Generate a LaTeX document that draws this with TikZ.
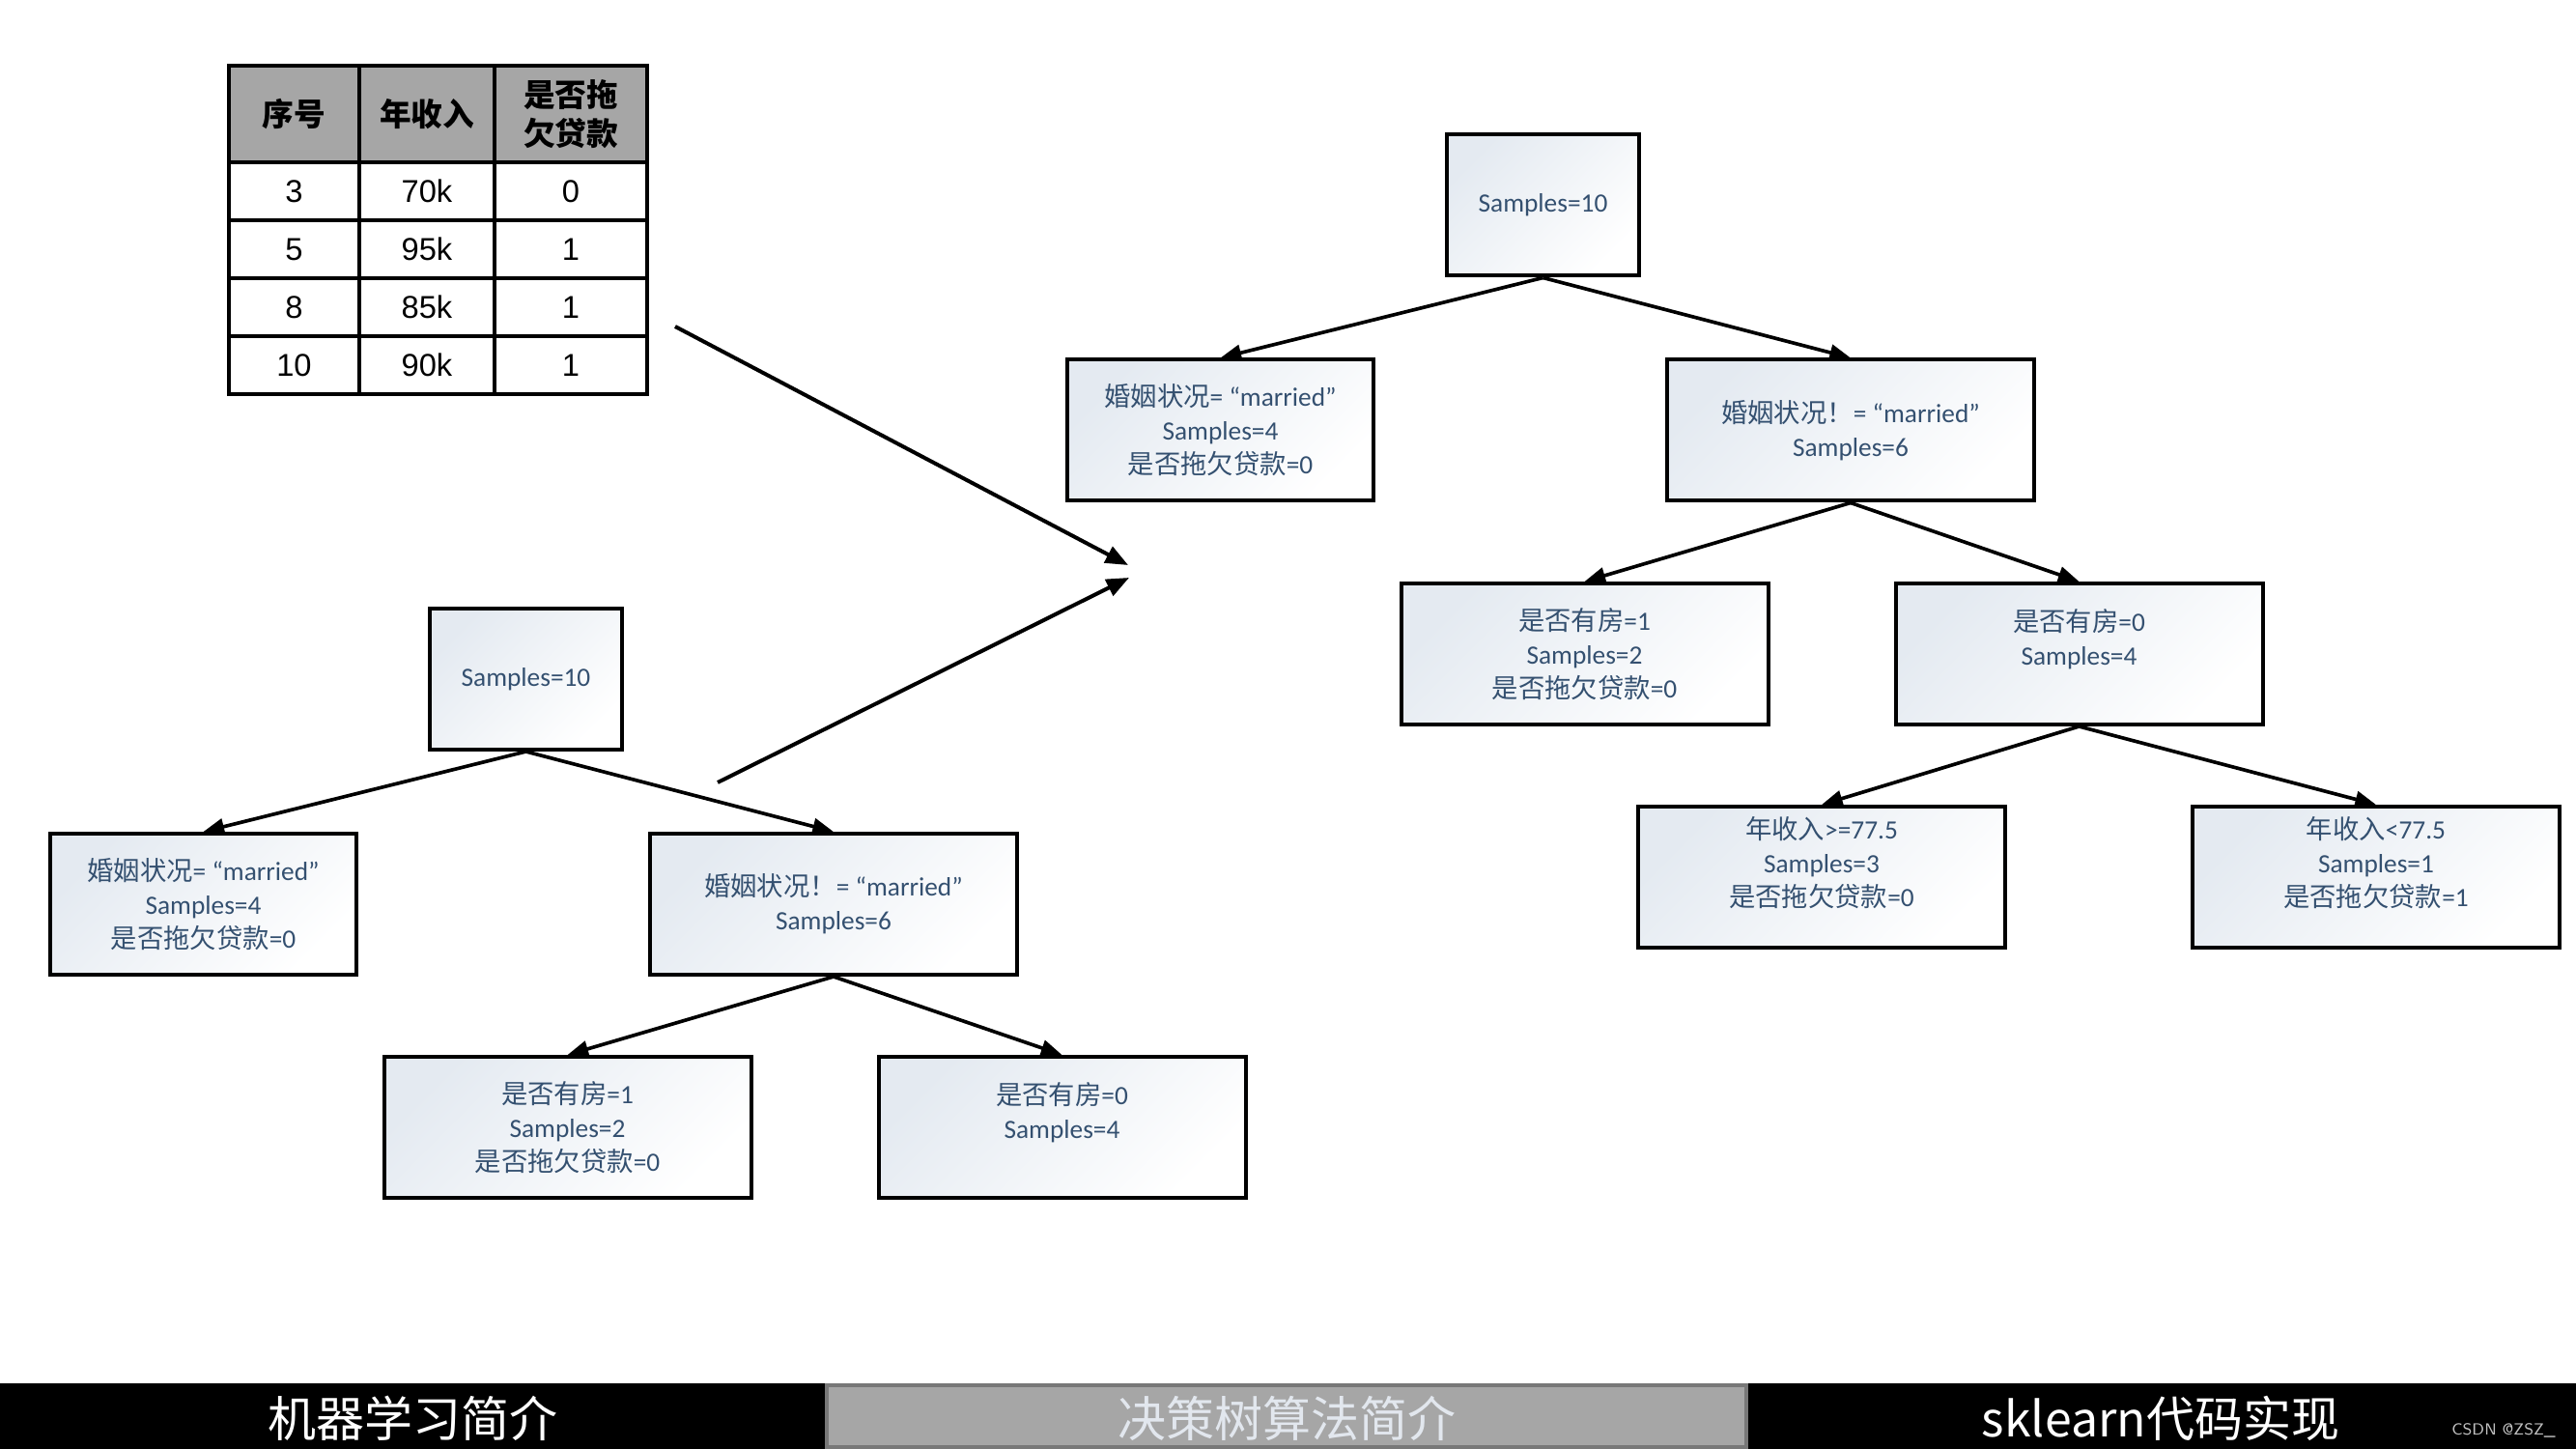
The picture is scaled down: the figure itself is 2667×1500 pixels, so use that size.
\documentclass[tikz,border=0pt]{standalone}
\usepackage{fontspec}
\setmainfont{Carlito}
\newfontfamily\zh{Noto Sans CJK SC}
\newfontfamily\tabf{Liberation Sans}
\usetikzlibrary{arrows.meta}
\definecolor{txtblue}{RGB}{52,80,112}
\definecolor{boxL}{RGB}{228,234,241}
\definecolor{hdr}{RGB}{166,166,166}
\definecolor{barg}{RGB}{166,166,166}
\definecolor{bargd}{RGB}{120,120,120}
\definecolor{bartxt}{RGB}{226,231,238}
\begin{document}
\begin{tikzpicture}[x=0.3pt,y=-0.3pt,
  box/.style={draw=black,line width=1.2pt,top color=boxL,bottom color=white,shading angle=45,
    minimum height=43.8pt,inner sep=0pt,align=center,text=txtblue,
    font=\fontsize{8.2}{10.5}\selectfont},
  wS/.style={minimum width=59.7pt},
  wM/.style={minimum width=95.1pt},
  wL/.style={minimum width=114pt},
  txt/.style={align=center,text=txtblue,font=\fontsize{8.2}{10.5}\selectfont,inner sep=0pt},
  edge/.style={line width=1.1pt,-{Triangle[length=6.5pt,width=5pt]}},
  big/.style={line width=1.2pt,-{Triangle[length=7pt,width=5.5pt]}},
  tcell/.style={inner sep=0pt,align=center,font=\tabf\fontsize{9.8}{12}\selectfont},
  thead/.style={inner sep=0pt,align=center,font=\zh\bfseries\fontsize{9.8}{12}\selectfont},
  bartext/.style={inner sep=0pt,font=\zh\fontsize{15}{15}\selectfont}
]
\useasboundingbox (0,0) rectangle (2667,1500);

% ---------- table ----------
\fill[hdr] (237,68) rectangle (670,168);
\draw[line width=1.3pt] (237,68) rectangle (670,408);
\foreach \yy in {168,228,288,348} \draw[line width=1.3pt] (237,\yy) -- (670,\yy);
\foreach \xx in {372,512} \draw[line width=1.3pt] (\xx,68) -- (\xx,408);
\node[thead] (h1) at (304.5,118) {序号};
\node[thead] (h2) at (442,118) {年收入};
\node[thead] (h3) at (591,118) {是否拖\\欠贷款};
\node[tcell] (c11) at (304.5,198) {3};
\node[tcell] (c12) at (442,198) {70k};
\node[tcell] (c13) at (591,198) {0};
\node[tcell] (c21) at (304.5,258) {5};
\node[tcell] (c22) at (442,258) {95k};
\node[tcell] (c23) at (591,258) {1};
\node[tcell] (c31) at (304.5,318) {8};
\node[tcell] (c32) at (442,318) {85k};
\node[tcell] (c33) at (591,318) {1};
\node[tcell] (c41) at (304.5,378) {10};
\node[tcell] (c42) at (442,378) {90k};
\node[tcell] (c43) at (591,378) {1};

% ---------- right tree ----------
\node[box,wS] (R0) at (1597.5,212.5) {Samples=10};
\node[box,wM] (RA) at (1263.5,445.5) {{\zh 婚姻状况}= “married”\\Samples=4\\{\zh 是否拖欠贷款}=0};
\node[box,wL] (RB) at (1916,445.5) {{\zh 婚姻状况！}= “married”\\Samples=6};
\node[box,wL] (RC) at (1640.5,677) {{\zh 是否有房}=1\\Samples=2\\{\zh 是否拖欠贷款}=0};
\node[box,wL,label={[txt,yshift=4.6pt]center:{{\zh 是否有房}=0\\Samples=4}}] (RD) at (2152.5,677) {};
\node[box,wL,label={[txt,yshift=4.6pt]center:{{\zh 年收入}>=77.5\\Samples=3\\{\zh 是否拖欠贷款}=0}}] (RE) at (1886,908) {};
\node[box,wL,label={[txt,yshift=4.6pt]center:{{\zh 年收入}<77.5\\Samples=1\\{\zh 是否拖欠贷款}=1}}] (RF) at (2460,908) {};

\draw[edge] (R0.south) -- (RA.north);
\draw[edge] (R0.south) -- (RB.north);
\draw[edge] (RB.south) -- (RC.north);
\draw[edge] (RB.south) -- (RD.north);
\draw[edge] (RD.south) -- (RE.north);
\draw[edge] (RD.south) -- (RF.north);

% ---------- left tree ----------
\node[box,wS] (L0) at (544.5,703) {Samples=10};
\node[box,wM] (LA) at (210.5,936) {{\zh 婚姻状况}= “married”\\Samples=4\\{\zh 是否拖欠贷款}=0};
\node[box,wL] (LB) at (863,936) {{\zh 婚姻状况！}= “married”\\Samples=6};
\node[box,wL] (LC) at (587.5,1167) {{\zh 是否有房}=1\\Samples=2\\{\zh 是否拖欠贷款}=0};
\node[box,wL,label={[txt,yshift=4.6pt]center:{{\zh 是否有房}=0\\Samples=4}}] (LD) at (1099.5,1167) {};

\draw[edge] (L0.south) -- (LA.north);
\draw[edge] (L0.south) -- (LB.north);
\draw[edge] (LB.south) -- (LC.north);
\draw[edge] (LB.south) -- (LD.north);

% ---------- big arrows ----------
\coordinate (p1s) at (699,338);
\coordinate (p1e) at (1168,585);
\coordinate (p2s) at (743,810);
\coordinate (p2e) at (1169,598);
\draw[big] (p1s) -- (p1e);
\draw[big] (p2s) -- (p2e);

% ---------- bottom bar ----------
\fill[black] (0,1432) rectangle (2667,1500);
\draw[fill=barg,draw=bargd,line width=1.2pt] (856,1434) rectangle (1808,1498);
\node[bartext,text=white] (b1) at (427,1468) {机器学习简介};
\node[bartext,text=bartxt] (b2) at (1332,1468) {决策树算法简介};
\node[bartext,text=white] (b3) at (2237,1468) {sklearn代码实现};
\node[inner sep=0pt,text=black!25,font=\sffamily\fontsize{5}{5}\selectfont] (wm) at (2592,1481) {CSDN @ZSZ\_};
\end{tikzpicture}
\end{document}
